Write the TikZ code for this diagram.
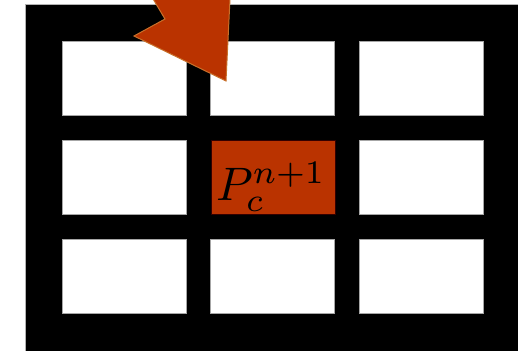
\documentclass[tikz,border=0pt]{standalone}
\begin{document}
\begin{tikzpicture}[x=1pt,y=-1pt,
  cellbox/.style={draw=gray!70,line width=0.6pt,fill=white,minimum width=124pt,minimum height=74pt,inner sep=0pt,anchor=north west},
  hotcell/.style={draw=black!80!red,line width=0.6pt,fill=rust,minimum width=124pt,minimum height=74pt,inner sep=0pt,anchor=north west},
  arrowshape/.style={fill=rust,draw=rustedge,line width=1pt,line join=miter}]
\definecolor{rust}{HTML}{BA3300}
\definecolor{rustedge}{HTML}{C8702A}
\useasboundingbox (0,0) rectangle (518,350);
\begin{scope}
\clip (0,0) rectangle (518,350);
\fill[black,draw=gray!60,line width=1pt] (25,4.5) rectangle (530,360);
% cells
\foreach \c/\x in {1/62,3/359}{
  \foreach \r/\y in {1/41,2/140,3/239}{
    \node[cellbox] (c\c\r) at (\x,\y) {};
  }
}
\node[cellbox] (c21) at (210,41) {};
\node[cellbox] (c23) at (210,239) {};
\node[hotcell] (c22) at (211,140) {};
\node[scale=4.7,inner sep=0pt] (lbl) at (271,187) {$P_c^{n+1}$};
% arrow
\draw[arrowshape] (226,81) -- (134,36) -- (165,19) -- (143,-18) -- (180,-40) -- (199,-0.5) -- (231,-22) -- cycle;
\end{scope}
\end{tikzpicture}
\end{document}
